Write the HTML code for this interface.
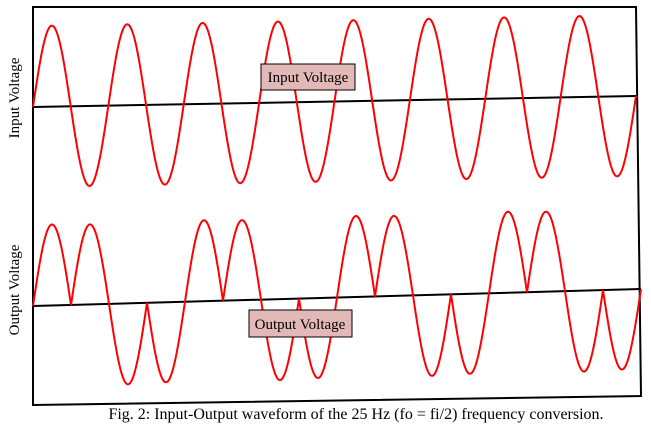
<!DOCTYPE html>
<html><head><meta charset="utf-8"><style>
html,body{margin:0;padding:0;background:#fff;}
svg{display:block;font-family:"Liberation Serif",serif;}
</style></head><body>
<svg id="chart" width="651" height="426" viewBox="0 0 651 426" xmlns="http://www.w3.org/2000/svg">
<polygon points="33,7 636,7 641,396 33,405" fill="none" stroke="#000" stroke-width="2"/>
<line x1="33" y1="107" x2="636" y2="96" stroke="#000" stroke-width="2"/>
<line x1="33" y1="306" x2="641" y2="289" stroke="#000" stroke-width="2"/>
<g id="series"></g>
<g>
<rect x="261" y="64" width="94" height="26" fill="#e3b9b7" stroke="#000" stroke-width="1"/>
<text x="308" y="82" font-size="15" text-anchor="middle">Input Voltage</text></g>
<g>
<rect x="249" y="310" width="103" height="27" fill="#e3b9b7" stroke="#000" stroke-width="1"/>
<text x="300" y="329" font-size="15" text-anchor="middle">Output Voltage</text></g>
<text transform="translate(19,98) rotate(-90)" font-size="15" text-anchor="middle">Input Voltage</text>
<text transform="translate(19,290) rotate(-90)" font-size="15" text-anchor="middle">Output Voltage</text>
<text x="356" y="419" font-size="16" text-anchor="middle">Fig. 2: Input-Output waveform of the 25 Hz (fo = fi/2) frequency conversion.</text>
</svg>
<script>
// half-cycle index 0..15; input: 8 full cycles (16 half-cycles), output: 16 rectified half-cycles with sign pattern
const halfCycles = [0,1,2,3,4,5,6,7,8,9,10,11,12,13,14,15];
const inputAmps = [81,80,81,80,81,80,81,80,81,80,81,80,81,80,81,80];
const outputSigns = [1,1,-1,-1,1,1,-1,-1,1,1,-1,-1,1,1,-1,-1];
const outputAmps = [81,80,81,80,81,80,81,80,81,80,81,80,81,80,81,80];

const inX = t => 33 + t*(636-33)/16;
const inBase = x => 107 + (x-33)*(96-107)/(636-33);
const outX = t => 33 + t*(641-33)/16;
const outBase = x => 306 + (x-33)*(289-306)/(641-33);

const g = document.getElementById('series');
const NS = 'http://www.w3.org/2000/svg';
const steps = 40;
let dIn = '', dOut = '';
halfCycles.forEach((k,i)=>{
  for(let s=0;s<=steps;s++){
    if(i>0 && s===0) continue;
    const f = s/steps, t = k+f;
    const sv = Math.sin(Math.PI*t);
    const xi = inX(t);
    const yi = inBase(xi) - inputAmps[i]*sv;
    dIn += (dIn?'L':'M') + xi.toFixed(2)+','+yi.toFixed(2);
    const xo = outX(t);
    const yo = outBase(xo) - outputSigns[i]*outputAmps[i]*Math.sin(Math.PI*f);
    dOut += (dOut?'L':'M') + xo.toFixed(2)+','+yo.toFixed(2);
  }
});
const p1 = document.createElementNS(NS,'path');


p1.setAttribute('d', dIn); p1.setAttribute('fill','none'); p1.setAttribute('stroke','#f00'); p1.setAttribute('stroke-width','2');
g.appendChild(p1);
const p2 = document.createElementNS(NS,'path');


p2.setAttribute('d', dOut); p2.setAttribute('fill','none'); p2.setAttribute('stroke','#f00'); p2.setAttribute('stroke-width','2');
g.appendChild(p2);
</script>
</body></html>
